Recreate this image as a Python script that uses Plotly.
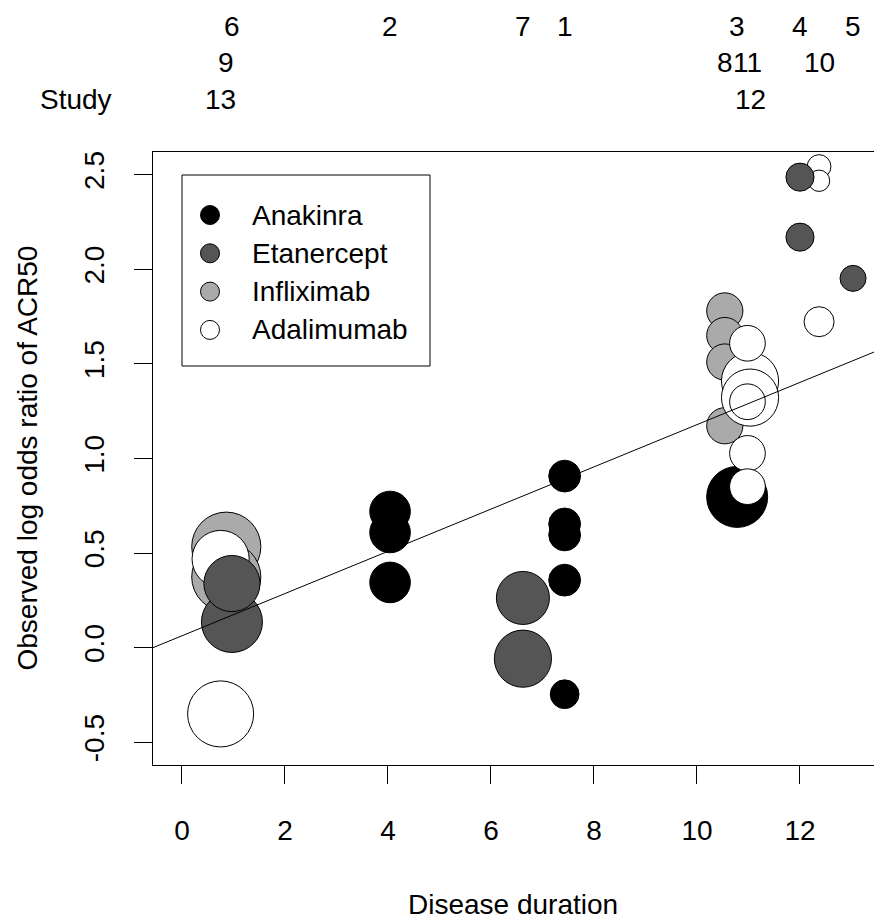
import math
import plotly.graph_objects as go

# ---------------- data ----------------
drug_names = ["Anakinra", "Etanercept", "Infliximab", "Adalimumab"]

# one entry per study: number, drug, mean disease duration, row of its label above the plot
study_id = [1, 2, 3, 4, 5, 6, 7, 8, 9, 10, 11, 12, 13]
study_drug = ["Anakinra", "Anakinra", "Anakinra", "Etanercept", "Etanercept",
              "Etanercept", "Etanercept", "Infliximab", "Infliximab",
              "Adalimumab", "Adalimumab", "Adalimumab", "Adalimumab"]
study_duration = [7.43, 4.04, 10.78, 12.0, 13.03, 0.97, 6.62, 10.54, 0.86,
                  12.37, 10.98, 11.03, 0.75]
study_label_row = [0, 0, 0, 0, 0, 0, 0, 1, 1, 1, 1, 2, 2]

# one entry per treatment arm: study, observed log odds ratio of ACR50, precision weight
arm_study = [1, 1, 1, 1, 1, 2, 2, 2, 3, 4, 4, 5, 6, 6, 7, 7, 8, 8, 8, 8,
             9, 9, 10, 10, 10, 11, 11, 11, 11, 12, 12, 13, 13]
arm_logor = [0.907, 0.654, 0.596, 0.357, -0.246,
             0.72, 0.609, 0.345,
             0.797,
             2.487, 2.17,
             1.952,
             0.339, 0.136,
             0.263, -0.058,
             1.78, 1.65, 1.51, 1.173,
             0.534, 0.374,
             2.543, 2.468, 1.723,
             1.609, 1.30, 1.027, 0.851,
             1.41, 1.322,
             0.469, -0.35]
arm_weight = [28, 28, 28, 28, 23,
              45, 45, 45,
              100,
              22, 22,
              19,
              85, 100,
              76, 88,
              36, 36, 36, 36,
              128, 128,
              16, 13, 25,
              35, 35, 35, 35,
              88, 88,
              88, 117]

# meta-regression of log odds ratio on disease duration
fit_intercept = 0.063
fit_slope = 0.1116

# ---------------- style ----------------
FONT = "Liberation Sans, Arial, Helvetica, sans-serif"
FS = 28
fill_of = {"Anakinra": "#000000", "Etanercept": "#555555",
           "Infliximab": "#aaaaaa", "Adalimumab": "#ffffff"}
draw_order = ["Anakinra", "Infliximab", "Adalimumab", "Etanercept"]
SIZE_SCALE = 6.2

W, H = 874, 923
L, T, B = 153, 152, 765          # plot area edges in pixels
XR = [-0.563, 13.437]
YR = [-0.62, 2.62]


def paper_x(px):
    return (px - L) / (W - L)


def paper_y(py):
    return (B - py) / (B - T)


dur_of = dict(zip(study_id, study_duration))
drug_of = dict(zip(study_id, study_drug))

fig = go.Figure()

for drug in draw_order:
    rows = [(dur_of[s], y, w) for s, y, w in zip(arm_study, arm_logor, arm_weight)
            if drug_of[s] == drug]
    rows.sort(key=lambda r: -r[2])
    fig.add_trace(go.Scatter(
        x=[r[0] for r in rows], y=[r[1] for r in rows],
        mode="markers", name=drug, showlegend=False,
        marker=dict(size=[SIZE_SCALE * math.sqrt(r[2]) - 1 for r in rows],
                    color=fill_of[drug], opacity=1,
                    line=dict(color="black", width=1)),
    ))

# fitted line across the whole plotting region
fig.add_trace(go.Scatter(
    x=XR, y=[fit_intercept + fit_slope * v for v in XR],
    mode="lines", line=dict(color="black", width=1), showlegend=False,
))

annotations = []
shapes = []

# study numbers above the plot
for s, d, r in zip(study_id, study_duration, study_label_row):
    annotations.append(dict(
        x=d, xref="x", y=paper_y(27 + 36 * r), yref="paper",
        text=str(s), showarrow=False, xanchor="center", yanchor="middle",
        font=dict(family=FONT, size=FS, color="black")))
annotations.append(dict(
    x=paper_x(76), xref="paper", y=paper_y(27 + 36 * 2), yref="paper",
    text="Study", showarrow=False, xanchor="center", yanchor="middle",
    font=dict(family=FONT, size=FS, color="black")))

# axis titles
annotations.append(dict(
    x=paper_x(513), xref="paper", y=paper_y(904), yref="paper",
    text="Disease duration", showarrow=False, xanchor="center", yanchor="middle",
    font=dict(family=FONT, size=FS, color="black")))
annotations.append(dict(
    x=paper_x(27), xref="paper", y=0.5, yref="paper", textangle=-90,
    text="Observed log odds ratio of ACR50", showarrow=False,
    xanchor="center", yanchor="middle",
    font=dict(family=FONT, size=FS, color="black")))

# legend box
shapes.append(dict(type="rect", xref="paper", yref="paper",
                   x0=paper_x(182), x1=paper_x(430),
                   y0=paper_y(366), y1=paper_y(175),
                   line=dict(color="black", width=1), fillcolor="white",
                   layer="below"))
for i, drug in enumerate(drug_names):
    ry = 215 + 38.3 * i
    shapes.append(dict(type="circle", xref="paper", yref="paper",
                       xsizemode="pixel", ysizemode="pixel",
                       xanchor=paper_x(210), yanchor=paper_y(ry),
                       x0=-9.5, x1=9.5, y0=-9.5, y1=9.5,
                       fillcolor=fill_of[drug],
                       line=dict(color="black", width=1), layer="above"))
    annotations.append(dict(
        x=paper_x(250), xref="paper", y=paper_y(ry), yref="paper",
        text=drug, showarrow=False, xanchor="left", yanchor="middle",
        font=dict(family=FONT, size=FS, color="black")))

axis_common = dict(
    showgrid=False, zeroline=False, showline=True, linecolor="black", linewidth=1,
    ticks="outside", ticklen=18, tickwidth=1, tickcolor="black",
    tickfont=dict(family=FONT, size=FS, color="black"),
)

fig.update_layout(
    width=W, height=H,
    margin=dict(l=L, r=0, t=T, b=H - B, pad=0),
    paper_bgcolor="white", plot_bgcolor="white",
    showlegend=False,
    xaxis=dict(range=XR, tickvals=[0, 2, 4, 6, 8, 10, 12], mirror=True,
               ticklabelstandoff=22, **axis_common),
    yaxis=dict(range=YR, tickvals=[-0.5, 0, 0.5, 1.0, 1.5, 2.0, 2.5],
               ticktext=["-0.5", "0.0", "0.5", "1.0", "1.5", "2.0", "2.5"],
               tickangle=-90, ticklabelstandoff=19, **axis_common),
    annotations=annotations, shapes=shapes,
    font=dict(family=FONT, size=FS, color="black"),
)

fig.write_html("out.html")
